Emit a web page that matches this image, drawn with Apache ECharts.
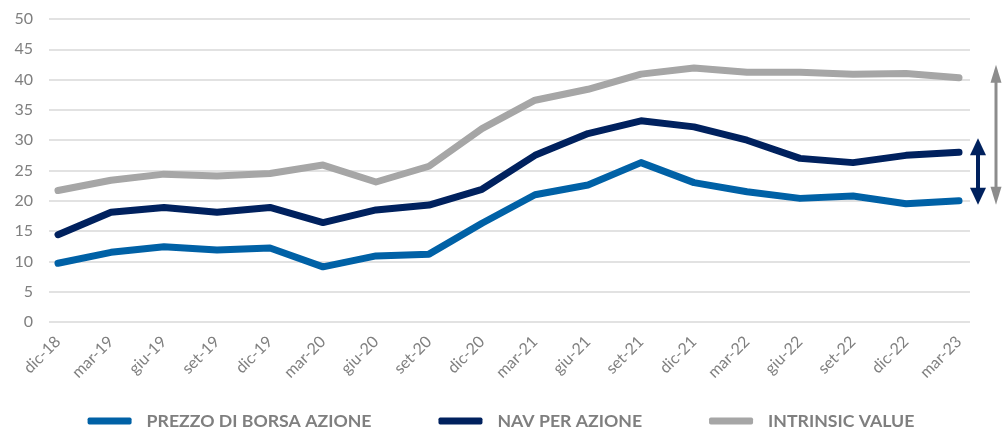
<!DOCTYPE html>
<html>
<head>
<meta charset="utf-8">
<script src="https://cdn.jsdelivr.net/npm/echarts@6/dist/echarts.min.js"></script>
<style>
    html, body { margin: 0; padding: 0; background: #fff; }
    #chart { width: 1002px; height: 427px; }
</style>
</head>
<body>
<div id="chart"></div>
<script>
    // dati
    const categories = ['dic-18','mar-19','giu-19','set-19','dic-19','mar-20','giu-20','set-20','dic-20',
        'mar-21','giu-21','set-21','dic-21','mar-22','giu-22','set-22','dic-22','mar-23'];
    const prezzo = [9.7, 11.5, 12.4, 11.9, 12.2, 9.1, 10.9, 11.2, 16.3, 21.0, 22.6, 26.3, 23.0, 21.5, 20.4, 20.8, 19.5, 20.0];
    const nav = [14.4, 18.1, 18.9, 18.1, 18.9, 16.4, 18.5, 19.3, 21.9, 27.5, 31.1, 33.2, 32.2, 30.0, 27.0, 26.3, 27.5, 28.0];
    const intrinsic = [21.7, 23.4, 24.4, 24.1, 24.5, 25.9, 23.1, 25.7, 31.9, 36.6, 38.4, 40.9, 41.9, 41.2, 41.2, 40.9, 41.0, 40.3];
    const yTicks = [0, 50, 5];   // min, max, interval

    const colors = ['#0061A6', '#00215E', '#A6A6A6'];
    const font = 'Lato, "Open Sans", sans-serif';

    const myChart = echarts.init(document.getElementById('chart'));

    function lineSeries(name, data, color) {
        return {
            name: name,
            type: 'line',
            xAxisIndex: 1,
            yAxisIndex: 1,
            data: data,
            symbol: 'none',
            smooth: false,
            lineStyle: { color: color, width: 7, cap: 'round', join: 'round' },
            itemStyle: { color: color }
        };
    }

    const option = {
        animation: false,
        backgroundColor: '#fff',
        color: colors,
        grid: [
            // griglia con le linee orizzontali
            { left: 49, right: 32, top: 19, bottom: 105 },
            // griglia dei dati
            { left: 58, right: 43, top: 19, bottom: 105 }
        ],
        legend: {
            top: 407,
            left: 'center',
            itemWidth: 44,
            itemHeight: 7,
            itemGap: 67,
            icon: 'roundRect',
            textStyle: { color: '#7F7F7F', fontSize: 17.7, fontWeight: 'bold', fontFamily: font, padding: [0, 0, 0, 10] },
            data: ['PREZZO DI BORSA AZIONE', 'NAV PER AZIONE', 'INTRINSIC VALUE']
        },
        xAxis: [
            { gridIndex: 0, type: 'value', show: false, min: 0, max: 1 },
            {
                gridIndex: 1,
                type: 'category',
                boundaryGap: false,
                data: categories,
                axisLine: { show: false },
                axisTick: { show: false },
                axisLabel: {
                    rotate: 45,
                    margin: 17,
                    color: '#7F7F7F',
                    fontSize: 16,
                    fontFamily: font,
                    interval: 0
                }
            }
        ],
        yAxis: [
            {
                gridIndex: 0,
                type: 'value',
                min: yTicks[0],
                max: yTicks[1],
                interval: yTicks[2],
                axisLine: { show: false },
                axisTick: { show: false },
                axisLabel: { color: '#7F7F7F', fontSize: 16, fontFamily: font, margin: 16 },
                splitLine: { lineStyle: { color: '#D9D9D9', width: 1.5 } }
            },
            {
                gridIndex: 1,
                type: 'value',
                min: yTicks[0],
                max: yTicks[1],
                interval: yTicks[2],
                show: false,
                splitLine: { show: false }
            }
        ],
        series: [
            lineSeries('PREZZO DI BORSA AZIONE', prezzo, colors[0]),
            lineSeries('NAV PER AZIONE', nav, colors[1]),
            lineSeries('INTRINSIC VALUE', intrinsic, colors[2])
        ]
    };
    myChart.setOption(option);

    // frecce a destra: estremi presi dagli ultimi valori delle serie
    const last = categories.length - 1;
    const yOf = function (v) { return myChart.convertToPixel({ xAxisIndex: 1, yAxisIndex: 1 }, [last, v])[1]; };
    const yBlue = yOf(prezzo[last]);
    const yNav = yOf(nav[last]);
    const yGrey = yOf(intrinsic[last]);

    function arrow(x, top, bottom, color, shaft, headW, headH) {
        return {
            type: 'group',
            silent: true,
            children: [
                { type: 'line', shape: { x1: x, y1: top + headH - 1, x2: x, y2: bottom - headH + 1 },
                  style: { stroke: color, lineWidth: shaft } },
                { type: 'polygon', shape: { points: [[x, top], [x - headW / 2, top + headH], [x + headW / 2, top + headH]] },
                  style: { fill: color } },
                { type: 'polygon', shape: { points: [[x, bottom], [x - headW / 2, bottom - headH], [x + headW / 2, bottom - headH]] },
                  style: { fill: color } }
            ]
        };
    }

    myChart.setOption({
        graphic: [
            arrow(996, yGrey - 13, yBlue + 4, '#8C8C8C', 3, 11, 18),
            arrow(978, yNav - 14, yBlue + 4, '#00215E', 4, 16, 17)
        ]
    });
</script>
</body>
</html>
